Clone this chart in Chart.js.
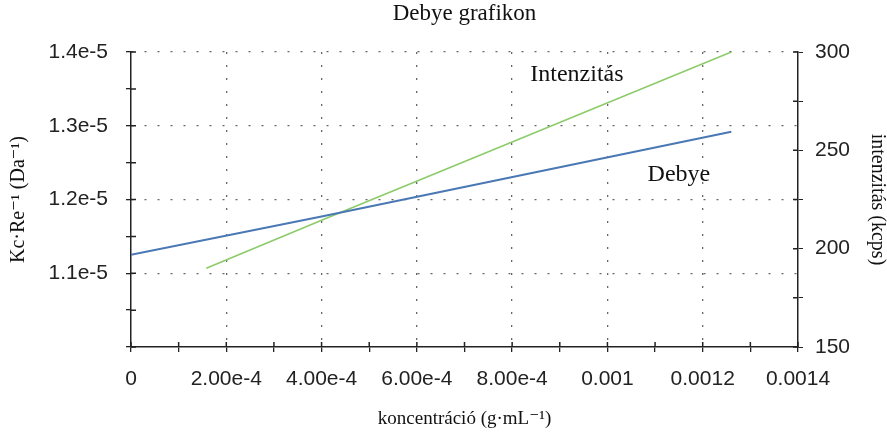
<!DOCTYPE html>
<html lang="hu">
<head>
<meta charset="UTF-8">
<title>Debye grafikon</title>
<script src="https://cdn.jsdelivr.net/npm/chart.js"></script>
<style>
  html, body { margin: 0; padding: 0; background: #fff; }
  #wrap { width: 887px; height: 435px; }
</style>
</head>
<body>
<div id="wrap"><canvas id="chart"></canvas></div>
<script>
// values
const debyeConc = [0, 0.0004, 0.00126];
const debyeValues = [1.125e-5, 1.177e-5, 1.292e-5];
const intensityConc = [0.000158, 0.0004, 0.00126];
const intensityValues = [190, 214.5, 300];

// ticks (every tick gets a mark, only some get a label)
const xTickValues = [0, 0.0001, 0.0002, 0.0003, 0.0004, 0.0005, 0.0006, 0.0007, 0.0008, 0.0009, 0.001, 0.0011, 0.0012, 0.0013, 0.0014];
const xTickLabels = ['0', '', '2.00e-4', '', '4.00e-4', '', '6.00e-4', '', '8.00e-4', '', '0.001', '', '0.0012', '', '0.0014'];
const leftTickValues = [1.0e-5, 1.05e-5, 1.1e-5, 1.15e-5, 1.2e-5, 1.25e-5, 1.3e-5, 1.35e-5, 1.4e-5];
const leftTickLabels = ['', '', '1.1e-5', '', '1.2e-5', '', '1.3e-5', '', '1.4e-5'];
const rightTickValues = [150, 175, 200, 225, 250, 275, 300];
const rightTickLabels = ['150', '', '200', '', '250', '', '300'];

const chartTitle = 'Debye grafikon';
// in-plot series names, placed in data units
const seriesNotes = [
  { text: 'Intenzitás', x: 0.000936, y: 1.369e-5 },
  { text: 'Debye', x: 0.00115, y: 1.233e-5 }
];

const serif = '"Liberation Serif", "DejaVu Serif", serif';
const sans = '"Liberation Sans", Arial, sans-serif';
const gridDot = '#666';

function setTicks(values) {
  return scale => { scale.ticks = values.map(v => ({ value: v })); };
}

// inner half of the axis ticks (reference ticks cross the axis), the
// series names inside the plot, and the title centred over the plot area
const extras = {
  id: 'extras',
  afterDraw(chart) {
    const { ctx, chartArea: a, scales } = chart;
    ctx.save();
    ctx.strokeStyle = '#222';
    ctx.lineWidth = 1.5;
    ctx.beginPath();
    xTickValues.forEach(v => {
      const px = scales.x.getPixelForValue(v);
      ctx.moveTo(px, a.bottom); ctx.lineTo(px, a.bottom - 5);
    });
    leftTickValues.forEach(v => {
      const py = scales.y.getPixelForValue(v);
      ctx.moveTo(a.left, py); ctx.lineTo(a.left + 5, py);
    });
    rightTickValues.forEach(v => {
      const py = scales.y2.getPixelForValue(v);
      ctx.moveTo(a.right, py); ctx.lineTo(a.right - 5, py);
    });
    ctx.stroke();
    ctx.fillStyle = '#111';
    ctx.textAlign = 'center';
    ctx.textBaseline = 'middle';
    ctx.font = '24px ' + serif;
    seriesNotes.forEach(n => {
      ctx.fillText(n.text, scales.x.getPixelForValue(n.x), scales.y.getPixelForValue(n.y));
    });
    ctx.font = '23px ' + serif;
    ctx.fillText(chartTitle, (a.left + a.right) / 2, 14);
    ctx.restore();
  }
};

const majorX = ctx => {
  const i = ctx.index;
  return (i > 0 && i < xTickValues.length - 1 && xTickLabels[i] !== '') ? gridDot : 'rgba(0,0,0,0)';
};
const majorY = ctx => {
  const i = ctx.index;
  return (i > 0 && leftTickLabels[i] !== '') ? gridDot : 'rgba(0,0,0,0)';
};

new Chart(document.getElementById('chart'), {
  type: 'scatter',
  data: {
    datasets: [
      {
        label: 'Debye',
        data: debyeConc.map((c, i) => ({ x: c, y: debyeValues[i] })),
        yAxisID: 'y',
        showLine: true,
        borderColor: '#4a78b4',
        borderWidth: 2,
        pointRadius: 0
      },
      {
        label: 'Intenzitás',
        data: intensityConc.map((c, i) => ({ x: c, y: intensityValues[i] })),
        yAxisID: 'y2',
        showLine: true,
        borderColor: '#8ccb6a',
        borderWidth: 1.6,
        pointRadius: 0
      }
    ]
  },
  options: {
    responsive: true,
    maintainAspectRatio: false,
    animation: false,
    layout: { padding: { top: 52, left: 0, right: 0, bottom: 0 } },
    plugins: {
      legend: { display: false },
      tooltip: { enabled: false },
      title: { display: false }
    },
    scales: {
      x: {
        type: 'linear',
        min: 0,
        max: 0.0014,
        afterBuildTicks: setTicks(xTickValues),
        afterFit: s => { s.height = 88; },
        ticks: {
          autoSkip: false,
          maxRotation: 0,
          padding: 15,
          color: '#222',
          font: { family: sans, size: 21 },
          callback: (v, i) => xTickLabels[i]
        },
        grid: { color: majorX, tickColor: '#222', tickLength: 5, lineWidth: 1.3 },
        border: { display: true, color: '#222', width: 1.5, dash: [2, 11] },
        title: {
          display: true,
          text: 'koncentráció (g·mL⁻¹)',
          color: '#111',
          font: { family: serif, size: 19 },
          padding: { top: 0, bottom: 5 }
        }
      },
      y: {
        position: 'left',
        min: 1.0e-5,
        max: 1.4e-5,
        afterBuildTicks: setTicks(leftTickValues),
        afterFit: s => { s.width = 131; },
        ticks: {
          autoSkip: false,
          padding: 18,
          color: '#222',
          font: { family: sans, size: 21 },
          callback: (v, i) => leftTickLabels[i]
        },
        grid: { color: majorY, tickColor: '#222', tickLength: 5, lineWidth: 1.3 },
        border: { display: true, color: '#222', width: 1.5, dash: [2, 11] },
        title: {
          display: true,
          text: 'Kc·Re⁻¹ (Da⁻¹)',
          color: '#111',
          font: { family: serif, size: 20 },
          padding: { top: 7, bottom: 0 }
        }
      },
      y2: {
        position: 'right',
        min: 150,
        max: 300,
        afterBuildTicks: setTicks(rightTickValues),
        afterFit: s => { s.width = 89; },
        ticks: {
          autoSkip: false,
          padding: 12,
          color: '#222',
          font: { family: sans, size: 21 },
          callback: (v, i) => rightTickLabels[i]
        },
        grid: { drawOnChartArea: false, tickColor: '#222', tickLength: 5 },
        border: { display: true, color: '#222', width: 1.5 },
        title: {
          display: true,
          text: 'intenzitás (kcps)',
          color: '#111',
          font: { family: serif, size: 20, lineHeight: 1 },
          padding: { top: 0, bottom: 0 }
        }
      }
    }
  },
  plugins: [extras]
});
</script>
</body>
</html>
